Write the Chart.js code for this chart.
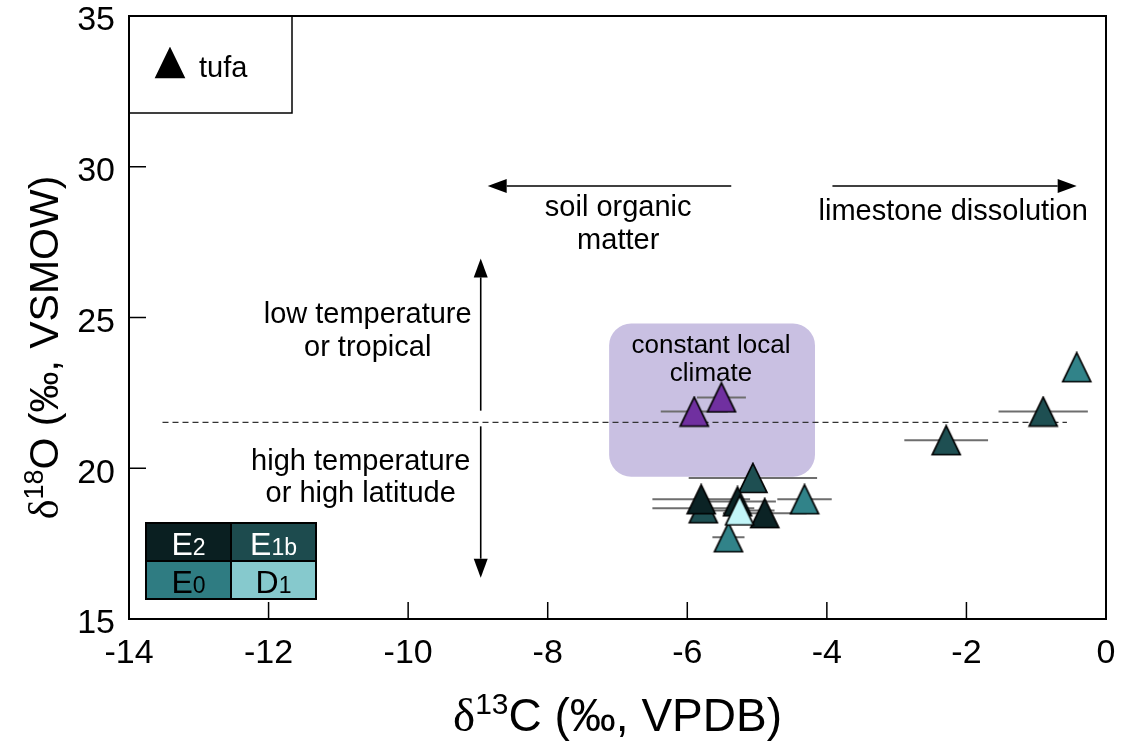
<!DOCTYPE html>
<html>
<head>
<meta charset="utf-8">
<script src="https://cdn.jsdelivr.net/npm/chart.js@4/dist/chart.umd.min.js"></script>
<style>
  html, body { margin: 0; padding: 0; background: #fff; }
  canvas { display: block; }
</style>
</head>
<body>
<canvas id="grafica" width="1122" height="746"></canvas>
<script>
// tufa isotopes: x = d13C (VPDB), y = d18O (VSMOW), err = horizontal error bar
const e2X = [-5.80, -5.28, -4.89];
const e2Y = [18.97, 18.90, 18.51];
const e2Err = [0.70, 0.55, 0.60];

const e1bX = [-0.90, -2.29, -5.06, -5.77];
const e1bY = [21.88, 20.93, 19.68, 18.67];
const e1bErr = [0.64, 0.60, 0.92, 0.73];

const e0X = [-0.42, -4.32, -5.41];
const e0Y = [23.35, 18.97, 17.71];
const e0Err = [0, 0.39, 0.23];

const d1X = [-5.25];
const d1Y = [18.60];
const d1Err = [0.50];

// the two samples inside the "constant local climate" box
const localX = [-5.90, -5.51];
const localY = [21.88, 22.35];
const localErr = [0.48, 0.35];

const xTicks = [-14, -12, -10, -8, -6, -4, -2, 0];
const yTicks = [15, 20, 25, 30, 35];

const lineaMedia = 21.52;

const FONT = "'Liberation Sans', Arial, sans-serif";
Chart.defaults.font.family = FONT;

// triangle marker as a small canvas so the shape is a bit taller than equilateral
function triangulo(color) {
    const c = document.createElement("canvas");
    c.width = 32; c.height = 32;
    const g = c.getContext("2d");
    g.beginPath();
    g.moveTo(16, 1.5);
    g.lineTo(30, 30.5);
    g.lineTo(2, 30.5);
    g.closePath();
    g.fillStyle = color;
    g.fill();
    g.lineWidth = 1.7;
    g.strokeStyle = "#000";
    g.stroke();
    return c;
}

const colores = {
    E2: "#0b2325",
    E1b: "#1e4f52",
    E0: "#318389",
    D1: "#c2f5f8",
    local: "#7030a0"
};

function serie(xs, ys, color, order) {
    return {
        data: xs.map((x, i) => ({ x: x, y: ys[i] })),
        pointStyle: triangulo(color),
        pointRadius: 15,
        pointHoverRadius: 15,
        showLine: false,
        order: order
    };
}

const grupos = [
    { x: e1bX, y: e1bY, err: e1bErr },
    { x: e2X, y: e2Y, err: e2Err },
    { x: e0X, y: e0Y, err: e0Err },
    { x: d1X, y: d1Y, err: d1Err },
    { x: localX, y: localY, err: localErr }
];

function flecha(ctx, x1, y1, x2, y2) {
    const ang = Math.atan2(y2 - y1, x2 - x1);
    const largo = 19, ancho = 7;
    ctx.beginPath();
    ctx.moveTo(x1, y1);
    ctx.lineTo(x2 - Math.cos(ang) * largo, y2 - Math.sin(ang) * largo);
    ctx.stroke();
    ctx.beginPath();
    ctx.moveTo(x2, y2);
    ctx.lineTo(x2 - Math.cos(ang) * largo - Math.sin(ang) * ancho, y2 - Math.sin(ang) * largo + Math.cos(ang) * ancho);
    ctx.lineTo(x2 - Math.cos(ang) * largo + Math.sin(ang) * ancho, y2 - Math.sin(ang) * largo - Math.cos(ang) * ancho);
    ctx.closePath();
    ctx.fill();
}

// text with a smaller raised (or baseline) part, centred on x
function textoRico(ctx, partes, x, y) {
    let total = 0;
    partes.forEach(p => {
        ctx.font = p.size + "px " + (p.family || FONT);
        p.w = ctx.measureText(p.t).width;
        total += p.w;
    });
    let cx = x - total / 2;
    ctx.textAlign = "left";
    partes.forEach(p => {
        ctx.font = p.size + "px " + (p.family || FONT);
        ctx.fillText(p.t, cx, y - (p.rise || 0));
        cx += p.w;
    });
}

const extras = {
    id: "extras",
    beforeDatasetsDraw(chart) {
        const { ctx, scales: { x, y } } = chart;
        ctx.save();

        // constant local climate box
        const l = x.getPixelForValue(-7.12), r = x.getPixelForValue(-4.17);
        const t = y.getPixelForValue(24.80), b = y.getPixelForValue(19.72);
        ctx.fillStyle = "#c9c0e2";
        ctx.beginPath();
        ctx.roundRect(l, t, r - l, b - t, 22);
        ctx.fill();

        ctx.fillStyle = "#000";
        ctx.font = "26px " + FONT;
        ctx.textAlign = "center";
        ctx.textBaseline = "middle";
        ctx.fillText("constant local", x.getPixelForValue(-5.66), y.getPixelForValue(24.06));
        ctx.fillText("climate", x.getPixelForValue(-5.66), y.getPixelForValue(23.12));

        // dashed reference line
        ctx.setLineDash([6, 4]);
        ctx.strokeStyle = "#333";
        ctx.lineWidth = 1.4;
        ctx.beginPath();
        ctx.moveTo(x.getPixelForValue(-13.52), y.getPixelForValue(lineaMedia));
        ctx.lineTo(x.getPixelForValue(-0.56), y.getPixelForValue(lineaMedia));
        ctx.stroke();
        ctx.setLineDash([]);

        // horizontal error bars
        ctx.strokeStyle = "#6e6e6e";
        ctx.lineWidth = 2;
        grupos.forEach(g => {
            g.x.forEach((xv, i) => {
                if (!g.err[i]) return;
                const py = y.getPixelForValue(g.y[i]);
                ctx.beginPath();
                ctx.moveTo(x.getPixelForValue(xv - g.err[i]), py);
                ctx.lineTo(x.getPixelForValue(xv + g.err[i]), py);
                ctx.stroke();
            });
        });
        ctx.restore();
    },
    afterDraw(chart) {
        const { ctx, chartArea: area, scales: { x, y } } = chart;
        ctx.save();

        // box on top and right
        ctx.strokeStyle = "#000";
        ctx.lineWidth = 2;
        ctx.beginPath();
        ctx.moveTo(area.left, area.top);
        ctx.lineTo(area.right, area.top);
        ctx.lineTo(area.right, area.bottom);
        ctx.stroke();

        // inward ticks
        ctx.lineWidth = 1.5;
        xTicks.forEach(v => {
            const px = x.getPixelForValue(v);
            ctx.beginPath();
            ctx.moveTo(px, area.bottom);
            ctx.lineTo(px, area.bottom - 17);
            ctx.stroke();
        });
        yTicks.forEach(v => {
            const py = y.getPixelForValue(v);
            ctx.beginPath();
            ctx.moveTo(area.left, py);
            ctx.lineTo(area.left + 17, py);
            ctx.stroke();
        });

        // arrows
        ctx.fillStyle = "#000";
        ctx.lineWidth = 1.6;
        flecha(ctx, x.getPixelForValue(-5.37), y.getPixelForValue(29.36), x.getPixelForValue(-8.86), y.getPixelForValue(29.36));
        flecha(ctx, x.getPixelForValue(-3.92), y.getPixelForValue(29.36), x.getPixelForValue(-0.42), y.getPixelForValue(29.36));
        flecha(ctx, x.getPixelForValue(-8.96), y.getPixelForValue(21.91), x.getPixelForValue(-8.96), y.getPixelForValue(26.96));
        flecha(ctx, x.getPixelForValue(-8.96), y.getPixelForValue(21.39), x.getPixelForValue(-8.96), y.getPixelForValue(16.37));

        // labels
        ctx.textAlign = "center";
        ctx.textBaseline = "middle";
        ctx.font = "29px " + FONT;
        ctx.fillText("soil organic", x.getPixelForValue(-6.99), y.getPixelForValue(28.62));
        ctx.fillText("matter", x.getPixelForValue(-6.99), y.getPixelForValue(27.55));
        ctx.fillText("limestone dissolution", x.getPixelForValue(-2.19), y.getPixelForValue(28.5));
        ctx.fillText("low temperature", x.getPixelForValue(-10.58), y.getPixelForValue(25.07));
        ctx.fillText("or tropical", x.getPixelForValue(-10.58), y.getPixelForValue(24.0));
        ctx.fillText("high temperature", x.getPixelForValue(-10.68), y.getPixelForValue(20.2));
        ctx.fillText("or high latitude", x.getPixelForValue(-10.68), y.getPixelForValue(19.14));

        // tufa legend
        ctx.lineWidth = 1.5;
        ctx.strokeRect(area.left, area.top, 163, 97);
        ctx.drawImage(triangulo("#000"), area.left + 25, area.top + 31);
        ctx.textAlign = "left";
        ctx.textBaseline = "alphabetic";
        ctx.font = "29px " + FONT;
        ctx.fillText("tufa", area.left + 70, area.top + 61);

        // period legend grid
        const gx = area.left + 17, gy = area.bottom - 96, cw = 85, ch = 38;
        const celdas = [
            { c: "#0a1f21", t: "E", s: "2", tc: "#fff", i: 0, j: 0 },
            { c: "#1d4b4e", t: "E", s: "1b", tc: "#fff", i: 1, j: 0 },
            { c: "#2f7c82", t: "E", s: "0", tc: "#000", i: 0, j: 1 },
            { c: "#86c9cd", t: "D", s: "1", tc: "#000", i: 1, j: 1 }
        ];
        celdas.forEach(k => {
            const cx = gx + k.i * cw, cy = gy + k.j * ch;
            ctx.fillStyle = k.c;
            ctx.fillRect(cx, cy, cw, ch);
            ctx.fillStyle = k.tc;
            textoRico(ctx, [{ t: k.t, size: 32 }, { t: k.s, size: 23 }], cx + cw / 2, cy + 32);
        });
        ctx.strokeStyle = "#000";
        ctx.lineWidth = 2;
        ctx.strokeRect(gx, gy, cw * 2, ch * 2);
        ctx.beginPath();
        ctx.moveTo(gx + cw, gy); ctx.lineTo(gx + cw, gy + ch * 2);
        ctx.moveTo(gx, gy + ch); ctx.lineTo(gx + cw * 2, gy + ch);
        ctx.stroke();

        // axis titles
        ctx.fillStyle = "#000";
        ctx.textBaseline = "alphabetic";
        textoRico(ctx, [
            { t: "\u03b4", size: 47, family: "'Liberation Serif', serif" },
            { t: "13", size: 30, rise: 17 },
            { t: "C (\u2030, VPDB)", size: 46 }
        ], (area.left + area.right) / 2, 731);

        ctx.translate(58, (area.top + area.bottom) / 2 + 30);
        ctx.rotate(-Math.PI / 2);
        textoRico(ctx, [
            { t: "\u03b4", size: 42, family: "'Liberation Serif', serif" },
            { t: "18", size: 27, rise: 15 },
            { t: "O (\u2030, VSMOW)", size: 41 }
        ], 0, 0);
        ctx.restore();
    }
};

const grafica = document.querySelector("#grafica").getContext("2d");

const mychart = new Chart(grafica, {
    type: "scatter",
    data: {
        datasets: [
            serie(localX, localY, colores.local, 0),
            serie(d1X, d1Y, colores.D1, 1),
            serie(e0X, e0Y, colores.E0, 2),
            serie(e2X, e2Y, colores.E2, 3),
            serie(e1bX, e1bY, colores.E1b, 4)
        ]
    },
    options: {
        responsive: false,
        animation: false,
        events: [],
        layout: { padding: { left: 0, right: 13, top: 14, bottom: 0 } },
        plugins: {
            legend: { display: false },
            tooltip: { enabled: false }
        },
        scales: {
            x: {
                type: "linear",
                min: -14,
                max: 0,
                ticks: { stepSize: 2, color: "#000", font: { size: 34 }, padding: 14 },
                grid: { display: false, drawTicks: false },
                border: { color: "#000", width: 2 },
                afterFit: s => { s.height = 127; s.paddingLeft = 0; s.paddingRight = 0; }
            },
            y: {
                min: 15,
                max: 35,
                ticks: { stepSize: 5, color: "#000", font: { size: 34 }, padding: 14, labelOffset: 5 },
                grid: { display: false, drawTicks: false },
                border: { color: "#000", width: 2 },
                afterFit: s => { s.width = 129; s.paddingTop = 0; s.paddingBottom = 0; }
            }
        }
    },
    plugins: [extras]
});
</script>
</body>
</html>
